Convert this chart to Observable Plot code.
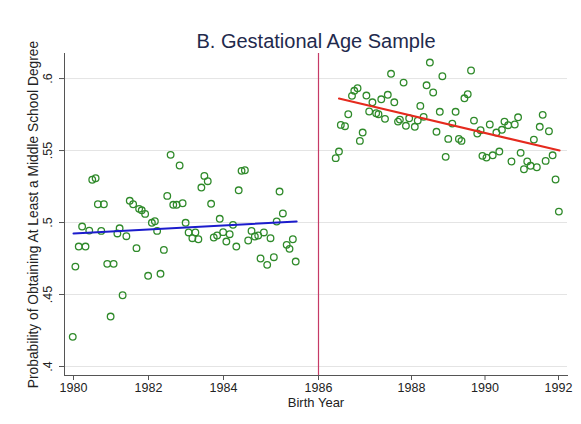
<!DOCTYPE html>
<html>
<head>
<meta charset="utf-8">
<script src="https://cdn.jsdelivr.net/npm/d3@7"></script>
<script src="https://cdn.jsdelivr.net/npm/@observablehq/plot@0.6"></script>
<style>
  html, body { margin: 0; padding: 0; background: #fff; }
  #chart { width: 581px; height: 424px; }
</style>
</head>
<body>
<div id="chart"></div>
<script>
const titleText = "B. Gestational Age Sample";
const xLabel = "Birth Year";
const yLabel = "Probability of Obtaining At Least a Middle School Degree";
const xTicks = [1980, 1982, 1984, 1986, 1988, 1990, 1992];
const yTicks = [0.4, 0.45, 0.5, 0.55, 0.6];
const cutoffYear = [1986];

const leftYear = [1979.98,1980.05,1980.14,1980.32,1980.23,1980.42,1980.50,1980.59,1980.65,1980.81,1980.74,1980.90,1981.07,1980.99,1981.17,1981.23,1981.31,1981.41,1981.50,1981.59,1981.68,1981.75,1981.82,1981.91,1981.99,1982.09,1982.17,1982.23,1982.32,1982.41,1982.50,1982.59,1982.66,1982.75,1982.83,1982.91,1982.99,1983.07,1983.17,1983.25,1983.33,1983.41,1983.49,1983.58,1983.67,1983.74,1983.83,1983.90,1983.99,1984.06,1984.13,1984.20,1984.27,1984.32,1984.38,1984.45,1984.52,1984.59,1984.66,1984.73,1984.78,1984.85,1984.92,1984.99,1985.06,1985.12,1985.18,1985.25,1985.33,1985.39,1985.46,1985.52];
const leftProb = [0.4206,0.4694,0.4833,0.4833,0.4972,0.4944,0.5297,0.5308,0.5127,0.5127,0.4942,0.4713,0.4713,0.4347,0.4924,0.4960,0.4495,0.4905,0.5151,0.5127,0.4822,0.5095,0.5085,0.5060,0.4630,0.4998,0.5009,0.4942,0.4644,0.4810,0.5185,0.5470,0.5123,0.5123,0.5396,0.5134,0.4998,0.4931,0.4891,0.4931,0.4884,0.5243,0.5324,0.5287,0.5130,0.4896,0.4910,0.5026,0.4933,0.4868,0.4919,0.4984,0.4833,0.5224,0.5359,0.5363,0.4875,0.4942,0.4903,0.4910,0.4750,0.4931,0.4706,0.4891,0.4759,0.5007,0.5215,0.5063,0.4845,0.4817,0.4884,0.4729];

const rightYear = [1986.37,1986.44,1986.48,1986.57,1986.64,1986.72,1986.77,1986.84,1986.89,1986.95,1987.03,1987.09,1987.16,1987.24,1987.29,1987.35,1987.43,1987.49,1987.56,1987.63,1987.71,1987.75,1987.83,1987.88,1987.95,1988.09,1988.17,1988.24,1988.33,1988.41,1988.50,1988.59,1988.68,1988.77,1988.84,1988.93,1989.00,1989.11,1989.20,1989.29,1989.36,1989.44,1989.53,1989.62,1989.70,1989.79,1989.88,1989.93,1990.04,1990.13,1990.21,1990.31,1990.39,1990.46,1990.53,1990.63,1990.72,1990.81,1990.90,1990.97,1991.06,1991.15,1991.24,1991.33,1991.41,1991.49,1991.57,1991.65,1991.74,1991.84,1991.92,1992.01];
const rightProb = [0.5447,0.5493,0.5678,0.5669,0.5752,0.5880,0.5915,0.5933,0.5567,0.5625,0.5882,0.5771,0.5835,0.5759,0.5752,0.5856,0.5720,0.5887,0.6033,0.5835,0.5701,0.5715,0.5972,0.5672,0.5724,0.5665,0.5708,0.5810,0.5734,0.5953,0.6111,0.5903,0.5630,0.5769,0.6016,0.5456,0.5581,0.5687,0.5769,0.5581,0.5567,0.5863,0.5891,0.6056,0.5708,0.5618,0.5641,0.5463,0.5451,0.5681,0.5467,0.5625,0.5493,0.5644,0.5701,0.5676,0.5424,0.5681,0.5731,0.5484,0.5370,0.5424,0.5394,0.5576,0.5384,0.5665,0.5748,0.5428,0.5634,0.5467,0.5299,0.5076];

const leftFitYear = [1980.0, 1985.54];
const leftFitProb = [0.4924, 0.5007];
const rightFitYear = [1986.44, 1992.03];
const rightFitProb = [0.5861, 0.5500];

const left = leftYear.map((x, i) => ({x, y: leftProb[i]}));
const right = rightYear.map((x, i) => ({x, y: rightProb[i]}));
const leftFit = leftFitYear.map((x, i) => ({x, y: leftFitProb[i]}));
const rightFit = rightFitYear.map((x, i) => ({x, y: rightFitProb[i]}));

const font = "'Liberation Sans', Arial, Helvetica, sans-serif";
const fmt = d => String(d).replace(/^0/, "");

const chart = Plot.plot({
  width: 581,
  height: 424,
  marginTop: 53,
  marginBottom: 49,
  marginLeft: 64,
  marginRight: 14,
  style: {fontFamily: font, fontSize: "12px", color: "#333", background: "#fff"},
  x: {type: "linear", domain: [1980, 1984, 1986, 1988, 1992], range: [73, 223, 318, 411, 558]},
  y: {domain: [0.39375, 0.6174]},
  marks: [
    Plot.gridY(yTicks, {stroke: "#e4e4e4", strokeOpacity: 1}),
    Plot.frame({anchor: "left", stroke: "#555"}),
    Plot.frame({anchor: "bottom", stroke: "#555"}),
    Plot.axisX({ticks: xTicks, tickSize: 5, tickPadding: 3, tickFormat: d => String(d), fontSize: 12.5, stroke: "#555", fill: "#222", label: null}),
    Plot.axisY({ticks: yTicks, tickSize: 5, tickFormat: () => "", stroke: "#555", label: null}),
    Plot.text(yTicks, {y: d => d, text: fmt, frameAnchor: "left", textAnchor: "middle", dx: -17, rotate: -90, fontSize: 12.5, fill: "#222"}),
    Plot.text([yLabel], {frameAnchor: "left", textAnchor: "middle", dx: -31, rotate: -90, fontSize: 13.8, fill: "#222"}),
    Plot.text([xLabel], {frameAnchor: "bottom", dy: 31, fontSize: 13, fill: "#222"}),
    Plot.text([titleText], {frameAnchor: "top", dy: -20, fontSize: 20, fill: "#1f2a4d"}),
    Plot.ruleX(cutoffYear, {stroke: "#c63a66", strokeWidth: 1.2}),
    Plot.dot(left, {x: "x", y: "y", r: 3.3, stroke: "#2f8a2a", strokeWidth: 1.3, fill: "none"}),
    Plot.dot(right, {x: "x", y: "y", r: 3.3, stroke: "#2f8a2a", strokeWidth: 1.3, fill: "none"}),
    Plot.line(leftFit, {x: "x", y: "y", stroke: "#1c1ccc", strokeWidth: 2}),
    Plot.line(rightFit, {x: "x", y: "y", stroke: "#e52a1e", strokeWidth: 2})
  ]
});
document.getElementById("chart").appendChild(chart);
</script>
</body>
</html>
